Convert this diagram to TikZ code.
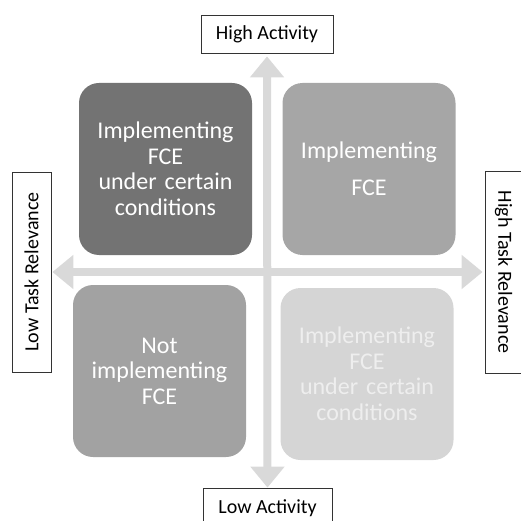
\documentclass[tikz,border=0pt]{standalone}
\usepackage{fontspec}
\setmainfont{Carlito}
\usetikzlibrary{arrows.meta}
\definecolor{axisgray}{HTML}{D9D9D9}
\definecolor{darkq}{HTML}{737373}
\definecolor{midq}{HTML}{A6A6A6}
\definecolor{midqb}{HTML}{A2A2A2}
\definecolor{lightq}{HTML}{D5D5D5}
\definecolor{lighttext}{HTML}{EEEEEE}
\begin{document}
\begin{tikzpicture}[x=1pt,y=-1pt,
  quad/.style={rounded corners=20pt, minimum width=173pt, minimum height=172pt,
    text width=165pt, align=center, inner sep=0pt, text=white,
    font=\fontsize{24}{25.5}\selectfont},
  lbl/.style={draw=black!80, fill=white, line width=0.8pt, inner sep=0pt,
    font=\fontsize{20}{24}\selectfont},
  axis/.style={draw=axisgray, line width=8pt,
    {Triangle[width=33pt,length=21pt]}-{Triangle[width=33pt,length=21pt]}}]
\useasboundingbox (0,0) rectangle (520,521);
% quadrants
\node[quad, fill=darkq] (tl) at (165.5,169) {Implementing\\FCE\\under certain\\conditions};
\node[quad, fill=midq] (tr) at (369,169) {Implementing\\[11pt]FCE};
\node[quad, fill=midqb] (bl) at (159.5,371) {Not\\implementing\\FCE};
\node[quad, fill=lightq, text=lighttext] (br) at (367,374) {Implementing\\FCE\\under certain\\conditions};
% axis labels
\node[lbl, minimum width=132pt, minimum height=38pt] (ha) at (267,34) {High Activity};
\node[lbl, minimum width=129pt, minimum height=40pt] (la) at (267.5,508) {Low Activity};
\node[lbl, minimum width=200pt, minimum height=39pt, rotate=90] (lt) at (31.5,272) {Low Task Relevance};
\node[lbl, minimum width=202pt, minimum height=37pt, rotate=-90] (ht) at (503.5,272) {High Task Relevance};
% axes
\draw[axis, shorten >=3pt] (la.north) -- (ha.south);
\draw[axis, shorten <=1pt, shorten >=2pt] (lt.south) -- (lt.south -| ht.south);
\end{tikzpicture}
\end{document}
